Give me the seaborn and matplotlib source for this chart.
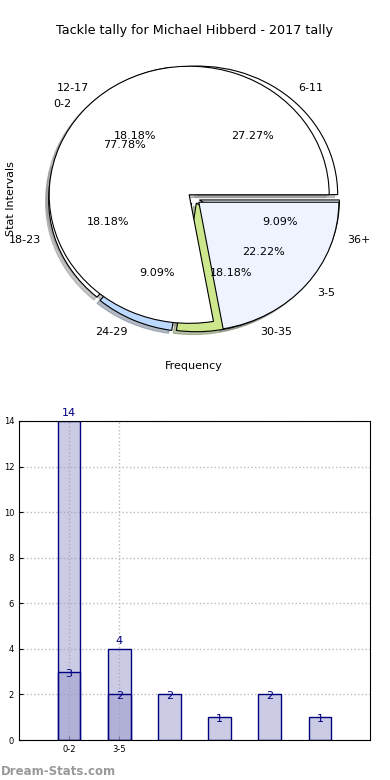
import matplotlib
matplotlib.use('Agg')
import matplotlib.pyplot as plt
import seaborn as sns


# Pie data (two overlaid pies, as in the reference)
main_labels = ['0-2', '3-5']
main_values = [14, 4]
main_colors = ['#ffffff', '#eef3ff']

sub_labels = ['6-11', '12-17', '18-23', '24-29', '30-35', '36+']
sub_values = [3, 2, 2, 1, 2, 1]
sub_colors = ['#ffffff', '#ffffff', '#ffffff', '#bcd9ff', '#cde88c', '#eef3ff']

# Bar data
bar_tick_labels = ['0-2', '3-5']
bar_totals = [14, 4]
bar_counts = [3, 2, 2, 1, 2, 1]

title = 'Tackle tally for Michael Hibberd - 2017 tally'

fig = plt.figure(figsize=(3.9, 7.8), dpi=100)

# ---- pie chart ----
ax1 = fig.add_axes([19 / 390, 0.5395, 350 / 390, 0.412])
wedge_style = {'edgecolor': 'black', 'linewidth': 0.8}
shadow_style = {'ox': -0.016, 'oy': -0.016, 'shade': 0.45, 'zorder': 0}

ax1.pie(sub_values, labels=sub_labels, colors=sub_colors, autopct='%.2f%%',
        explode=[0.04] * len(sub_values), shadow=shadow_style,
        wedgeprops=wedge_style, textprops={'fontsize': 8})
ax1.pie(main_values, labels=main_labels, colors=main_colors, autopct='%.2f%%',
        explode=[0.045] * len(main_values), shadow=shadow_style,
        wedgeprops=wedge_style, textprops={'fontsize': 8})
ax1.set_aspect('auto')
ax1.set_xlim(-1.25, 1.25)
ax1.set_ylim(-1.25, 1.25)
ax1.set_title(title, fontsize=9.2, pad=3)
ax1.set_xlabel('Frequency', fontsize=8, labelpad=1)
ax1.set_ylabel('Stat Intervals', fontsize=8, labelpad=2)

# ---- bar chart ----
ax2 = fig.add_axes([19 / 390, 40 / 780, 351 / 390, 319 / 780])
sns.barplot(x=list(range(len(bar_totals))), y=bar_totals, native_scale=True,
            color='#9999cc', saturation=1, width=0.45, ax=ax2)
sns.barplot(x=list(range(len(bar_counts))), y=bar_counts, native_scale=True,
            color='#9999cc', saturation=1, width=0.45, ax=ax2)

# translucent fill, solid navy outline
for p in ax2.patches:
    p.set_alpha(None)
    p.set_facecolor((0.6, 0.6, 0.8, 0.5))
    p.set_edgecolor('#000080')
    p.set_linewidth(1)

ax2.bar_label(ax2.containers[0], fontsize=8, color='#000080', padding=2)
ax2.bar_label(ax2.containers[1], fontsize=8, color='#000080', padding=-5)

ax2.set_xlim(-1, 6)
ax2.set_ylim(0, 14)
ax2.set_xticks(range(len(bar_tick_labels)))
ax2.set_xticklabels(bar_tick_labels)
ax2.set_yticks(range(0, 15, 2))
ax2.tick_params(labelsize=6, direction='in', length=3)
ax2.grid(True, linestyle=':', color='#bbbbbb', linewidth=1)
ax2.set_axisbelow(True)
for s in ax2.spines.values():
    s.set_color('black')

fig.text(0.002, 0.0115, 'Dream-Stats.com', color='#999999', fontsize=8.5,
         fontweight='bold', ha='left', va='center')

fig.savefig('out.png', dpi=100)
